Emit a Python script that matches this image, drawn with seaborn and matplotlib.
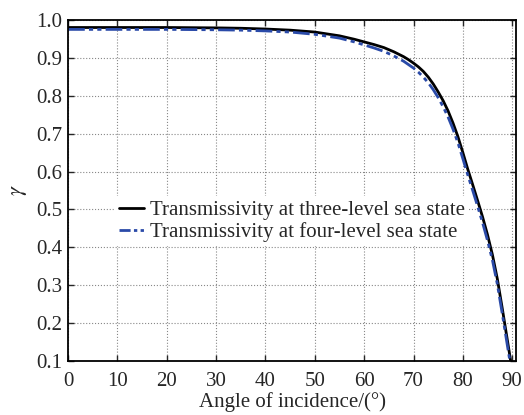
import numpy as np
import pandas as pd
import matplotlib
matplotlib.use("Agg")
import matplotlib.pyplot as plt
import seaborn as sns

# angle of incidence (deg) and transmissivity
angles = [0, 10, 20, 30, 35, 40, 45, 50, 55, 58, 60, 62, 64, 66, 68, 69, 70, 71, 72, 73, 74, 75,
          76, 77, 78, 79, 80, 81, 82, 83, 84, 85, 86, 87, 88, 89, 90, 90.5]
gamma_three = [0.980, 0.980, 0.980, 0.979, 0.978, 0.976, 0.973, 0.968, 0.958, 0.949, 0.942, 0.935,
               0.927, 0.916, 0.903, 0.895, 0.886, 0.876, 0.864, 0.849, 0.831, 0.810, 0.787, 0.760,
               0.728, 0.692, 0.650, 0.606, 0.565, 0.523, 0.480, 0.433, 0.380, 0.316, 0.238, 0.157,
               0.075, 0.030]
gamma_four = [0.975, 0.975, 0.975, 0.974, 0.973, 0.971, 0.968, 0.962, 0.952, 0.942, 0.934, 0.926,
              0.917, 0.905, 0.891, 0.882, 0.873, 0.862, 0.849, 0.834, 0.816, 0.795, 0.771, 0.744,
              0.712, 0.676, 0.634, 0.591, 0.550, 0.508, 0.465, 0.418, 0.366, 0.302, 0.224, 0.143,
              0.062, 0.020]
label_three = 'Transmissivity at three-level sea state'
label_four = 'Transmissivity at four-level sea state'
xticks = [0, 10, 20, 30, 40, 50, 60, 70, 80, 90]
yticks = [0.1, 0.2, 0.3, 0.4, 0.5, 0.6, 0.7, 0.8, 0.9, 1.0]

df = pd.DataFrame({'angle': angles, 'three': gamma_three, 'four': gamma_four})

sns.set_style("ticks")
plt.rcParams['font.family'] = ['Liberation Serif', 'DejaVu Serif']
plt.rcParams['mathtext.fontset'] = 'stix'

fig = plt.figure(figsize=(5.24, 4.15), dpi=100)
ax = fig.add_axes([0.130, 0.130, 0.855, 0.822])

sns.lineplot(data=df, x='angle', y='three', ax=ax, color='black', lw=2.0, label=label_three)
sns.lineplot(data=df, x='angle', y='four', ax=ax, color='#2a4aa8', lw=2.0,
             dashes=False, label=label_four)
ax.lines[1].set_dashes([6, 1.5, 1.5, 1.5, 1.5, 1.5])

ax.set_xlim(0, 90.8)
ax.set_ylim(0.1, 1.0)
ax.set_xticks(xticks)
ax.set_yticks(yticks)
ax.set_xticklabels([str(t) for t in xticks])
ax.set_yticklabels(['%.1f' % t for t in yticks])
ax.tick_params(direction='in', top=True, right=True, length=4, width=1, labelsize=15, pad=4)
ax.tick_params(axis='x', pad=8)
ax.grid(True, linestyle=':', color='#888888', lw=0.8)
for s in ax.spines.values():
    s.set_linewidth(1.3)
    s.set_color('black')

ax.set_xlabel('Angle of incidence/(°)', fontsize=15, labelpad=1)
ax.set_ylabel(r'$\gamma$', fontsize=16, labelpad=5)

leg = ax.legend(loc='center left', bbox_to_anchor=(0.105, 0.41), borderaxespad=0,
                frameon=True, fancybox=False, edgecolor='none', facecolor='white', framealpha=1,
                fontsize=15, handlelength=1.2, handletextpad=0.25, labelspacing=0.1, borderpad=0.2)
for h in leg.get_lines():
    h.set_linewidth(2.0)
leg.get_lines()[1].set_dashes([4, 1.2, 1.2, 1.2, 1.2, 1.2])

fig.savefig('out.png', dpi=100)
